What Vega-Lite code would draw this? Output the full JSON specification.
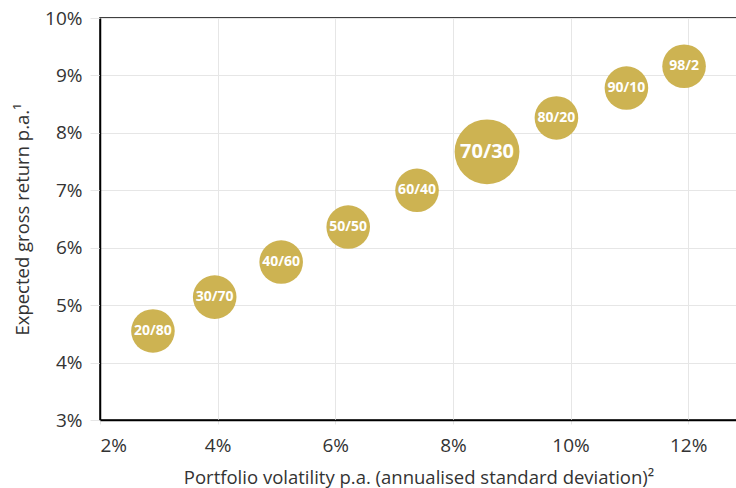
{
  "$schema": "https://vega.github.io/schema/vega-lite/v6.json",
  "autosize": {"type": "none"},
  "padding": {"left": 100, "top": 18, "right": 0, "bottom": 68},
  "width": 637,
  "height": 402,
  "background": "white",
  "config": {
    "font": "Open Sans",
    "view": {"stroke": "black", "strokeWidth": 1.5},
    "axis": {
      "labelFont": "Open Sans",
      "titleFont": "Open Sans",
      "labelColor": "#333333",
      "titleColor": "#333333",
      "titleFontWeight": "normal",
      "domainColor": "black",
      "domainWidth": 1.5,
      "gridColor": "#e6e6e6",
      "tickColor": "#e6e6e6"
    }
  },
  "data": {
    "values": [
      {"label": "20/80", "vol": 2.9, "ret": 4.55},
      {"label": "30/70", "vol": 3.95, "ret": 5.14},
      {"label": "40/60", "vol": 5.08, "ret": 5.75},
      {"label": "50/50", "vol": 6.22, "ret": 6.36},
      {"label": "60/40", "vol": 7.39, "ret": 7.0},
      {"label": "70/30", "vol": 8.58, "ret": 7.67},
      {"label": "80/20", "vol": 9.76, "ret": 8.26},
      {"label": "90/10", "vol": 10.95, "ret": 8.78},
      {"label": "98/2", "vol": 11.93, "ret": 9.16}
    ]
  },
  "encoding": {
    "x": {
      "field": "vol", "type": "quantitative",
      "scale": {"domain": [2, 12.83], "nice": false, "zero": false},
      "axis": {
        "values": [2, 4, 6, 8, 10, 12],
        "labelExpr": "datum.value + '%'",
        "title": "Portfolio volatility p.a. (annualised standard deviation)²",
        "labelFontSize": 19,
        "titleFontSize": 18.5,
        "tickSize": 4,
        "titlePadding": 13,
        "labelPadding": 12
      }
    },
    "y": {
      "field": "ret", "type": "quantitative",
      "scale": {"domain": [3, 10], "nice": false, "zero": false},
      "axis": {
        "values": [3, 4, 5, 6, 7, 8, 9, 10],
        "labelExpr": "datum.value + '%'",
        "title": "Expected gross return p.a.¹",
        "labelFontSize": 19,
        "titleFontSize": 18.5,
        "tickSize": 10,
        "titlePadding": 12,
        "labelPadding": 8
      }
    }
  },
  "layer": [
    {
      "mark": {"type": "circle", "color": "#CDB352", "opacity": 1},
      "encoding": {
        "size": {
          "condition": {"test": "datum.label === '70/30'", "value": 4200},
          "value": 1900
        }
      }
    },
    {
      "mark": {"type": "text", "color": "white", "fontWeight": "bold", "font": "Open Sans", "baseline": "middle", "align": "center"},
      "encoding": {
        "text": {"field": "label"},
        "size": {
          "condition": {"test": "datum.label === '70/30'", "value": 20},
          "value": 14
        }
      }
    }
  ]
}
